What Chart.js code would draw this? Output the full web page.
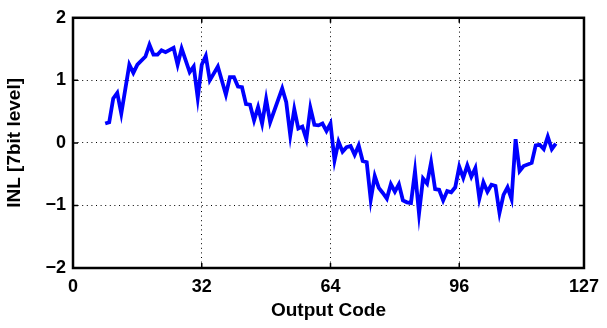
<!DOCTYPE html>
<html>
<head>
<meta charset="utf-8">
<script src="https://cdn.jsdelivr.net/npm/chart.js@4/dist/chart.umd.min.js"></script>
<style>
  html, body { margin: 0; padding: 0; background: #fff; }
  #wrap { width: 607px; height: 328px; }
</style>
</head>
<body>
<div id="wrap"><canvas id="inl_chart"></canvas></div>
<script>
// output codes where the curve turns, and the INL read at each one
const codes = [8, 9, 10, 11, 12, 14, 15, 16, 18, 19, 20, 21, 22, 23, 25, 26, 27, 29, 30,
    31, 32, 33, 34, 36, 38, 39, 40, 41, 42, 43, 44, 45, 46, 47, 48, 49, 52, 53, 54, 55,
    56, 57, 58, 59, 60, 61, 62, 63, 64, 65, 66, 67, 68, 69, 70, 71, 72, 73, 74, 75, 76,
    77, 78, 79, 80, 81, 82, 83, 84, 85, 86, 87, 88, 89, 90, 91, 92, 93, 94, 95, 96, 97,
    98, 99, 100, 101, 102, 103, 104, 105, 106, 107, 108, 109, 110, 111, 112, 114, 115,
    116, 117, 118, 119, 120]
const inl = [0.31, 0.33, 0.71, 0.80, 0.47, 1.25, 1.12, 1.25, 1.38, 1.57, 1.41, 1.41, 1.48,
    1.45, 1.52, 1.25, 1.51, 1.13, 1.22, 0.72, 1.25, 1.39, 1.00, 1.22, 0.77, 1.05, 1.05,
    0.90, 0.89, 0.62, 0.61, 0.36, 0.57, 0.31, 0.70, 0.33, 0.87, 0.65, 0.12, 0.54, 0.23,
    0.26, 0.06, 0.56, 0.29, 0.28, 0.31, 0.19, 0.31, -0.28, 0.02, -0.14, -0.07, -0.05,
    -0.19, -0.04, -0.29, -0.31, -0.91, -0.53, -0.72, -0.80, -0.89, -0.66, -0.78, -0.66,
    -0.92, -0.95, -0.96, -0.45, -1.13, -0.57, -0.65, -0.31, -0.74, -0.75, -0.92, -0.77,
    -0.79, -0.71, -0.38, -0.56, -0.36, -0.54, -0.40, -0.89, -0.63, -0.78, -0.67, -0.69,
    -1.12, -0.83, -0.71, -0.90, 0.06, -0.45, -0.37, -0.32, -0.04, -0.03, -0.10, 0.10,
    -0.10, -0.01]
const xTicks = [0, 32, 64, 96, 127]
const yTicks = [-2, -1, 0, 1, 2]

const font = { family: 'Liberation Sans, Arial, sans-serif', size: 18, weight: 'bold' }
const titleFont = { family: font.family, size: 19, weight: 'bold' }

// box round the plot plus the little inward tick marks on all four sides
const framePlugin = {
    id: 'frame',
    afterDatasetsDraw(chart) {
        const { ctx, chartArea: a, scales } = chart
        ctx.save()
        ctx.strokeStyle = '#000'
        ctx.lineWidth = 1.5
        xTicks.forEach(v => {
            const px = scales.x.getPixelForValue(v)
            ctx.beginPath()
            ctx.moveTo(px, a.bottom); ctx.lineTo(px, a.bottom - 5)
            ctx.moveTo(px, a.top); ctx.lineTo(px, a.top + 5)
            ctx.stroke()
        })
        yTicks.forEach(v => {
            const py = scales.y.getPixelForValue(v)
            ctx.beginPath()
            ctx.moveTo(a.left, py); ctx.lineTo(a.left + 5, py)
            ctx.moveTo(a.right, py); ctx.lineTo(a.right - 5, py)
            ctx.stroke()
        })
        ctx.lineWidth = 2.5
        ctx.strokeRect(a.left, a.top, a.right - a.left, a.bottom - a.top)
        ctx.restore()
    }
}

const ctx = document.getElementById('inl_chart').getContext('2d')
new Chart(ctx, {
    type: 'line',
    data: {
        datasets: [{
            data: codes.map((c, i) => ({ x: c, y: inl[i] })),
            borderColor: '#0000ff',
            borderWidth: 3.8,
            pointRadius: 0,
            tension: 0,
            fill: false
        }]
    },
    options: {
        responsive: true,
        maintainAspectRatio: false,
        animation: false,
        layout: { padding: { left: 0, right: 17, top: 13, bottom: 0 } },
        plugins: {
            legend: { display: false },
            tooltip: { enabled: false }
        },
        scales: {
            x: {
                type: 'linear',
                min: 0,
                max: 127,
                afterBuildTicks: scale => { scale.ticks = xTicks.map(v => ({ value: v })) },
                afterFit: scale => { scale.height = 60 },
                ticks: { color: '#000', font: font, padding: 8, maxRotation: 0 },
                grid: { color: '#000', lineWidth: 1, drawTicks: false },
                border: { display: false, dash: [1, 3.6] },
                title: {
                    display: true,
                    text: 'Output Code',
                    color: '#000',
                    font: titleFont,
                    padding: { top: 0, bottom: 6 }
                }
            },
            y: {
                min: -2,
                max: 2,
                afterBuildTicks: scale => { scale.ticks = yTicks.map(v => ({ value: v })) },
                afterFit: scale => { scale.width = 73 },
                ticks: {
                    color: '#000',
                    font: font,
                    padding: 7,
                    callback: v => (v < 0 ? '\u2212' + Math.abs(v) : String(v))
                },
                grid: { color: '#000', lineWidth: 1, drawTicks: false },
                border: { display: false, dash: [1, 3.6] },
                title: {
                    display: true,
                    text: 'INL [7bit level]',
                    color: '#000',
                    font: titleFont,
                    padding: { top: 3, bottom: 4 }
                }
            }
        }
    },
    plugins: [framePlugin]
})
</script>
</body>
</html>
